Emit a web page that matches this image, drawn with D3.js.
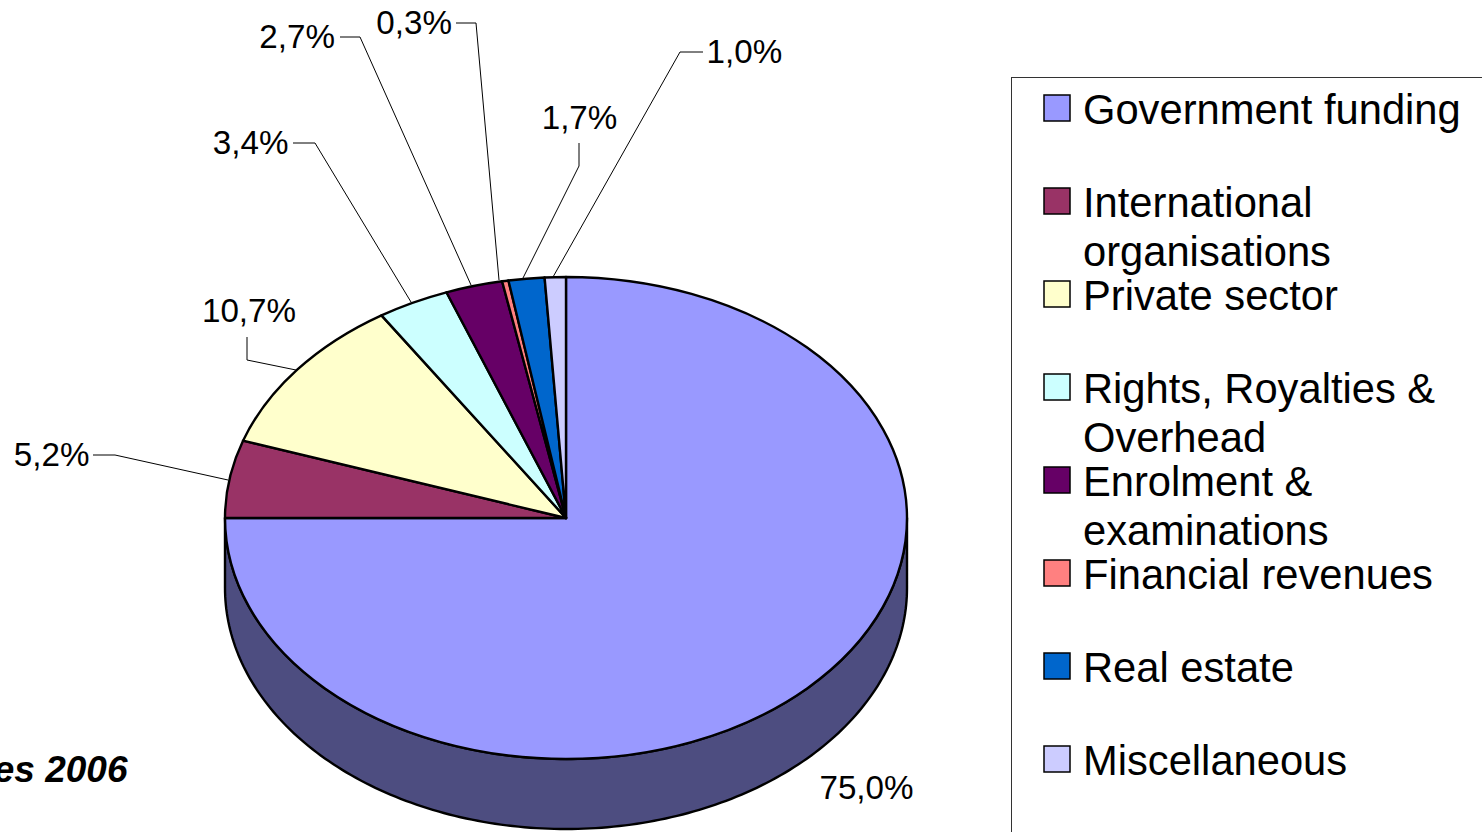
<!DOCTYPE html>
<html>
<head>
<meta charset="utf-8">
<script src="https://cdn.jsdelivr.net/npm/d3@7"></script>
<style>
  html, body { margin: 0; padding: 0; background: #fff; overflow: hidden; }
  svg { display: block; }
  text { font-family: "Liberation Sans", Arial, sans-serif; fill: #000; }
</style>
</head>
<body>
<div id="chart"></div>
<script>
// Data
const categories = [
  "Government funding", "International organisations", "Private sector",
  "Rights, Royalties & Overhead", "Enrolment & examinations",
  "Financial revenues", "Real estate", "Miscellaneous"
];
const shares = [75.0, 5.2, 10.7, 3.4, 2.7, 0.3, 1.7, 1.0];
const legendLines = [
  ["Government funding"],
  ["International", "organisations"],
  ["Private sector"],
  ["Rights, Royalties &", "Overhead"],
  ["Enrolment &", "examinations"],
  ["Financial revenues"],
  ["Real estate"],
  ["Miscellaneous"]
];
const sliceColors = ["#9999ff", "#993366", "#ffffcc", "#ccffff", "#660066", "#ff8080", "#0066cc", "#ccccff"];
const wallColor = "#4d4d80";
// Only this part of the caption is inside the picture
const caption = "es 2006";

// Label placement, in the same order as the categories
const labelLayout = [
  { x: 866.5, y: 787, anchor: "middle", leader: null },
  { x: 89.5, y: 454, anchor: "end", leader: [[93, 455], [115, 455], [228, 480]] },
  { x: 249, y: 310, anchor: "middle", leader: [[247, 337], [247, 360], [296, 370]] },
  { x: 288.5, y: 142, anchor: "end", leader: [[293, 143], [315, 143], [411, 302]] },
  { x: 335, y: 36, anchor: "end", leader: [[340, 37], [360, 37], [471, 285]] },
  { x: 452, y: 22, anchor: "end", leader: [[456, 23], [476, 23], [499, 280]] },
  { x: 579.5, y: 117, anchor: "middle", leader: [[579, 143], [579, 166], [523, 278]] },
  { x: 706.5, y: 51, anchor: "start", leader: [[703, 52], [680, 52], [553, 277]] }
];

const outerWidth = 1482;
const outerHeight = 832;

const pieCenter = { x: 566, y: 518 };
const rx = 341;
const ry = 241;
const depth = 70;

const svg = d3.select("#chart")
  .append("svg")
  .attr("width", outerWidth)
  .attr("height", outerHeight)
  .attr("viewBox", `0 0 ${outerWidth} ${outerHeight}`);

// Front wall of the tilted disc, drawn before the top face
const wallAngles = d3.range(Math.PI / 2, 3 * Math.PI / 2 + 0.001, Math.PI / 180);
const wall = d3.area()
  .x(a => pieCenter.x + rx * Math.sin(a))
  .y0(a => pieCenter.y - ry * Math.cos(a))
  .y1(a => pieCenter.y - ry * Math.cos(a) + depth);

svg.append("path")
  .attr("d", wall(wallAngles))
  .attr("fill", wallColor)
  .attr("stroke", "#000")
  .attr("stroke-width", 2.4)
  .attr("stroke-linejoin", "round");

// Top face: a normal pie squashed to an ellipse
const pie = d3.pie().sort(null).value(d => d);
const arc = d3.arc().innerRadius(0).outerRadius(rx);

svg.append("g")
  .attr("transform", `translate(${pieCenter.x},${pieCenter.y}) scale(1,${ry / rx})`)
  .selectAll("path")
  .data(pie(shares))
  .join("path")
  .attr("d", arc)
  .attr("fill", (d, i) => sliceColors[i])
  .attr("stroke", "#000")
  .attr("stroke-width", 2.4)
  .attr("stroke-linejoin", "round")
  .attr("vector-effect", "non-scaling-stroke");

// Leader lines
const leaderLine = d3.line();
svg.append("g")
  .selectAll("path")
  .data(labelLayout.filter(d => d.leader))
  .join("path")
  .attr("d", d => leaderLine(d.leader))
  .attr("fill", "none")
  .attr("stroke", "#000")
  .attr("stroke-width", 1);

// Percent labels with a decimal comma
const percent = d3.formatLocale({ decimal: ",", thousands: ".", grouping: [3], currency: ["", ""] }).format(".1f");

svg.append("g")
  .selectAll("text")
  .data(shares)
  .join("text")
  .attr("x", (d, i) => labelLayout[i].x)
  .attr("y", (d, i) => labelLayout[i].y)
  .attr("dy", "0.36em")
  .attr("text-anchor", (d, i) => labelLayout[i].anchor)
  .attr("font-size", 33.2)
  .text(d => percent(d) + "%");

// Legend, its frame runs off the right and bottom of the page
svg.append("rect")
  .attr("x", 1011.5)
  .attr("y", 77.5)
  .attr("width", 600)
  .attr("height", 900)
  .attr("fill", "#fff")
  .attr("stroke", "#333")
  .attr("stroke-width", 1);

const legendY = d3.scalePoint()
  .domain(categories)
  .range([108, 759]);

const rows = svg.append("g")
  .selectAll("g")
  .data(categories)
  .join("g")
  .attr("transform", d => `translate(0,${legendY(d)})`);

rows.append("rect")
  .attr("x", 1044)
  .attr("y", -13)
  .attr("width", 26)
  .attr("height", 26)
  .attr("fill", (d, i) => sliceColors[i])
  .attr("stroke", "#000")
  .attr("stroke-width", 1.5);

rows.append("text")
  .attr("font-size", 41.7)
  .attr("y", 16)
  .selectAll("tspan")
  .data((d, i) => legendLines[i])
  .join("tspan")
  .attr("x", 1083)
  .attr("dy", (d, i) => i === 0 ? 0 : 49)
  .text(d => d);

// Caption, its first letter touches the left edge of the page
svg.append("text")
  .attr("x", 127.5)
  .attr("y", 782)
  .attr("text-anchor", "end")
  .attr("font-size", 37)
  .attr("font-weight", "bold")
  .attr("font-style", "italic")
  .text(caption);
</script>
</body>
</html>
